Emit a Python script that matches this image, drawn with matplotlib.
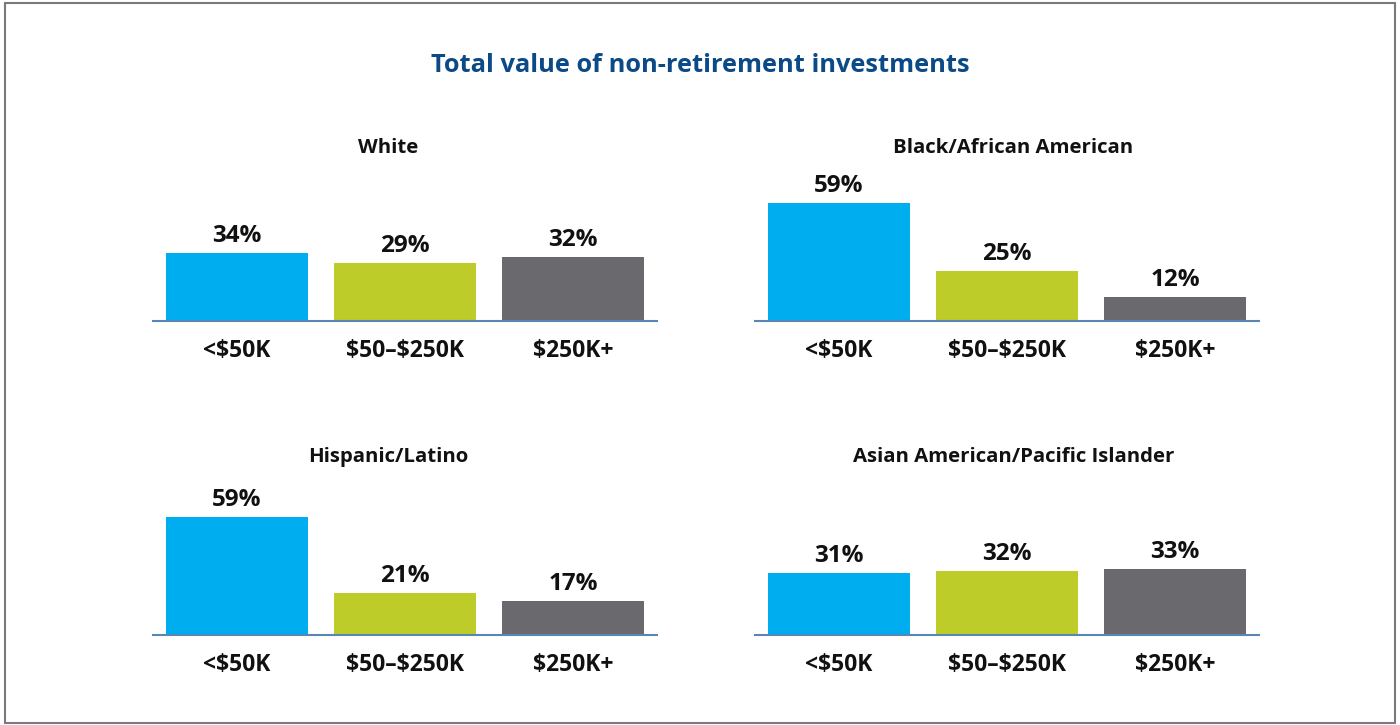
import matplotlib
matplotlib.use("Agg")
import matplotlib.pyplot as plt
from matplotlib.patches import Rectangle

# -----------------------------
# Data
# -----------------------------
categories = ["<$50K", "$50–$250K", "$250K+"]
groups = ["White", "Black/African American", "Hispanic/Latino",
          "Asian American/Pacific Islander"]
white = [34, 29, 32]
black = [59, 25, 12]
hispanic = [59, 21, 17]
asian = [31, 32, 33]
group_values = [white, black, hispanic, asian]

bar_colors = ["#00ADEE", "#BECC2A", "#6A6A6E"]
title_color = "#0B4A86"
base_color = "#5A86B5"

plt.rcParams["font.family"] = ["Open Sans", "DejaVu Sans"]

fig = plt.figure(figsize=(14, 7.25), dpi=100)

# grey frame round the whole chart
fig.patches.append(Rectangle((0.0036, 0.003), 0.9928, 0.9928, transform=fig.transFigure,
                             fill=False, edgecolor="#7A7A7A", linewidth=1.5))

fig.text(0.5, 0.9103, "Total value of non-retirement investments", ha="center", va="center",
         fontsize=18.3, fontweight="bold", color=title_color)

# axes boxes: left, bottom (baseline), width, height
lefts = [0.1093, 0.5393, 0.1093, 0.5393]
bottoms = [0.5572, 0.5572, 0.1241, 0.1241]
title_x = [0.2771, 0.7239, 0.2771, 0.7239]
title_y = [0.796, 0.796, 0.3696, 0.3696]

for i, (name, vals) in enumerate(zip(groups, group_values)):
    ax = fig.add_axes([lefts[i], bottoms[i], 0.36, 0.1931])
    x = range(len(categories))
    bars = ax.bar(x, vals, width=0.845, color=bar_colors, zorder=2)
    ax.set_xlim(-0.5, 2.5)
    ax.set_ylim(0, 70)
    for b, v in zip(bars, vals):
        ax.annotate(f"{v}%", (b.get_x() + b.get_width() / 2, v), xytext=(0, 3.5),
                    textcoords="offset points", ha="center", va="bottom",
                    fontsize=17.5, fontweight="bold", color="#111111")
    ax.set_xticks(list(x))
    # escape $ so matplotlib does not read it as mathtext
    ax.set_xticklabels([c.replace("$", r"\$") for c in categories], fontsize=16.5,
                       fontweight="bold", color="#111111")
    ax.tick_params(axis="x", length=0, pad=13)
    ax.set_yticks([])
    for s in ["top", "left", "right"]:
        ax.spines[s].set_visible(False)
    ax.spines["bottom"].set_color(base_color)
    ax.spines["bottom"].set_linewidth(1.5)
    ax.spines["bottom"].set_zorder(3)
    ax.patch.set_alpha(0)
    fig.text(title_x[i], title_y[i], name, ha="center", va="center",
             fontsize=14.7, fontweight="bold", color="#111111")

fig.savefig("out.png", dpi=100, facecolor="white")
